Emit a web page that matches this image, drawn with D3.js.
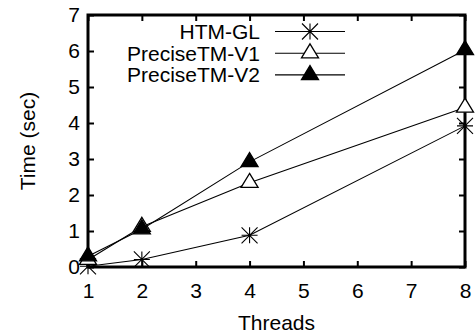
<!DOCTYPE html>
<html>
<head>
<meta charset="utf-8">
<script src="https://cdn.jsdelivr.net/npm/d3@7"></script>
<style>
  html, body { margin: 0; padding: 0; background: #fff; }
  svg { display: block; }
  text { font-family: "Liberation Sans", Arial, Helvetica, sans-serif; fill: #000; }
</style>
</head>
<body>
<svg id="chart" width="475" height="335"></svg>
<script>
const threads = [1, 2, 4, 8];
const htmGL = [0.02, 0.21, 0.88, 3.92];
const preciseV1 = [0.2, 1.12, 2.34, 4.43];
const preciseV2 = [0.3, 1.05, 2.92, 6.03];
const seriesNames = ["HTM-GL", "PreciseTM-V1", "PreciseTM-V2"];
const seriesMarkers = ["star", "openTri", "fillTri"];
const xTicks = [1, 2, 3, 4, 5, 6, 7, 8];
const yTicks = [0, 1, 2, 3, 4, 5, 6, 7];
const xLabel = "Threads";
const yLabel = "Time (sec)";

const seriesValues = [htmGL, preciseV1, preciseV2];

const W = 475, H = 335;
const m = { left: 88, right: 10, top: 15, bottom: 68 };
const svg = d3.select("#chart");
const x = d3.scaleLinear().domain([1, 8]).range([m.left, W - m.right]);
const y = d3.scaleLinear().domain([0, 7]).range([H - m.bottom, m.top]);

const fs = 21;
const tickLen = 6;

// axes (ticks inward)
const xAxis = d3.axisBottom(x).tickValues(xTicks).tickSize(-tickLen).tickPadding(16).tickFormat(d3.format("d"));
const yAxis = d3.axisLeft(y).tickValues(yTicks).tickSize(-tickLen).tickPadding(8).tickFormat(d3.format("d"));
const xAxisTop = d3.axisTop(x).tickValues(xTicks).tickSize(-tickLen).tickFormat("");
const yAxisRight = d3.axisRight(y).tickValues(yTicks).tickSize(-tickLen).tickFormat("");

function styleAxis(g) {
  g.select(".domain").remove();
  g.selectAll(".tick line").attr("stroke", "#000").attr("stroke-width", 2);
  g.selectAll(".tick text").attr("font-size", fs).attr("font-family", "Liberation Sans, Arial, sans-serif").attr("fill", "#000");
}
svg.append("g").attr("transform", `translate(0,${y(0)})`).call(xAxis).call(styleAxis);
svg.append("g").attr("transform", `translate(${x(1)},0)`).call(yAxis).call(styleAxis);
svg.append("g").attr("transform", `translate(0,${y(7)})`).call(xAxisTop).call(styleAxis);
svg.append("g").attr("transform", `translate(${x(8)},0)`).call(yAxisRight).call(styleAxis);

// border
svg.append("rect")
  .attr("x", x(1)).attr("y", y(7))
  .attr("width", x(8) - x(1)).attr("height", y(0) - y(7))
  .attr("fill", "none").attr("stroke", "#000").attr("stroke-width", 3);

// markers
function drawMarker(g, type, cx, cy) {
  const s = 8;
  if (type === "star") {
    g.append("path")
      .attr("d", `M${cx - s},${cy}L${cx + s},${cy}M${cx},${cy - s}L${cx},${cy + s}` +
                 `M${cx - s},${cy - s}L${cx + s},${cy + s}M${cx - s},${cy + s}L${cx + s},${cy - s}`)
      .attr("stroke", "#000").attr("stroke-width", 1.1).attr("fill", "none");
  } else {
    const hw = 8.5, h = 14;
    const d = `M${cx},${cy - 2 * h / 3}L${cx + hw},${cy + h / 3}L${cx - hw},${cy + h / 3}Z`;
    g.append("path").attr("d", d)
      .attr("stroke", "#000").attr("stroke-width", 1.3)
      .attr("fill", type === "fillTri" ? "#000" : "#fff");
  }
}

const line = d3.line().x(d => x(d[0])).y(d => y(d[1]));
seriesValues.forEach((vals, i) => {
  const pts = threads.map((t, j) => [t, vals[j]]);
  const g = svg.append("g");
  g.append("path").datum(pts).attr("d", line)
    .attr("fill", "none").attr("stroke", "#000").attr("stroke-width", 1.1);
  pts.forEach(p => drawMarker(g, seriesMarkers[i], x(p[0]), y(p[1])));
});

// legend
const legY0 = 31.5, legDy = 21.7;
seriesNames.forEach((name, i) => {
  const ly = legY0 + i * legDy;
  const g = svg.append("g");
  g.append("text").attr("x", 260).attr("y", ly).attr("dy", "0.36em")
    .attr("text-anchor", "end").attr("font-size", fs).text(name);
  g.append("line").attr("x1", 275).attr("x2", 345).attr("y1", ly).attr("y2", ly)
    .attr("stroke", "#000").attr("stroke-width", 1.1);
  drawMarker(g, seriesMarkers[i], 310, ly);
});

// axis labels
svg.append("text").attr("x", (x(1) + x(8)) / 2).attr("y", 330)
  .attr("text-anchor", "middle").attr("font-size", fs).text(xLabel);
svg.append("text").attr("transform", `translate(35,${(y(0) + y(7)) / 2}) rotate(-90)`)
  .attr("text-anchor", "middle").attr("font-size", fs).text(yLabel);
</script>
</body>
</html>
